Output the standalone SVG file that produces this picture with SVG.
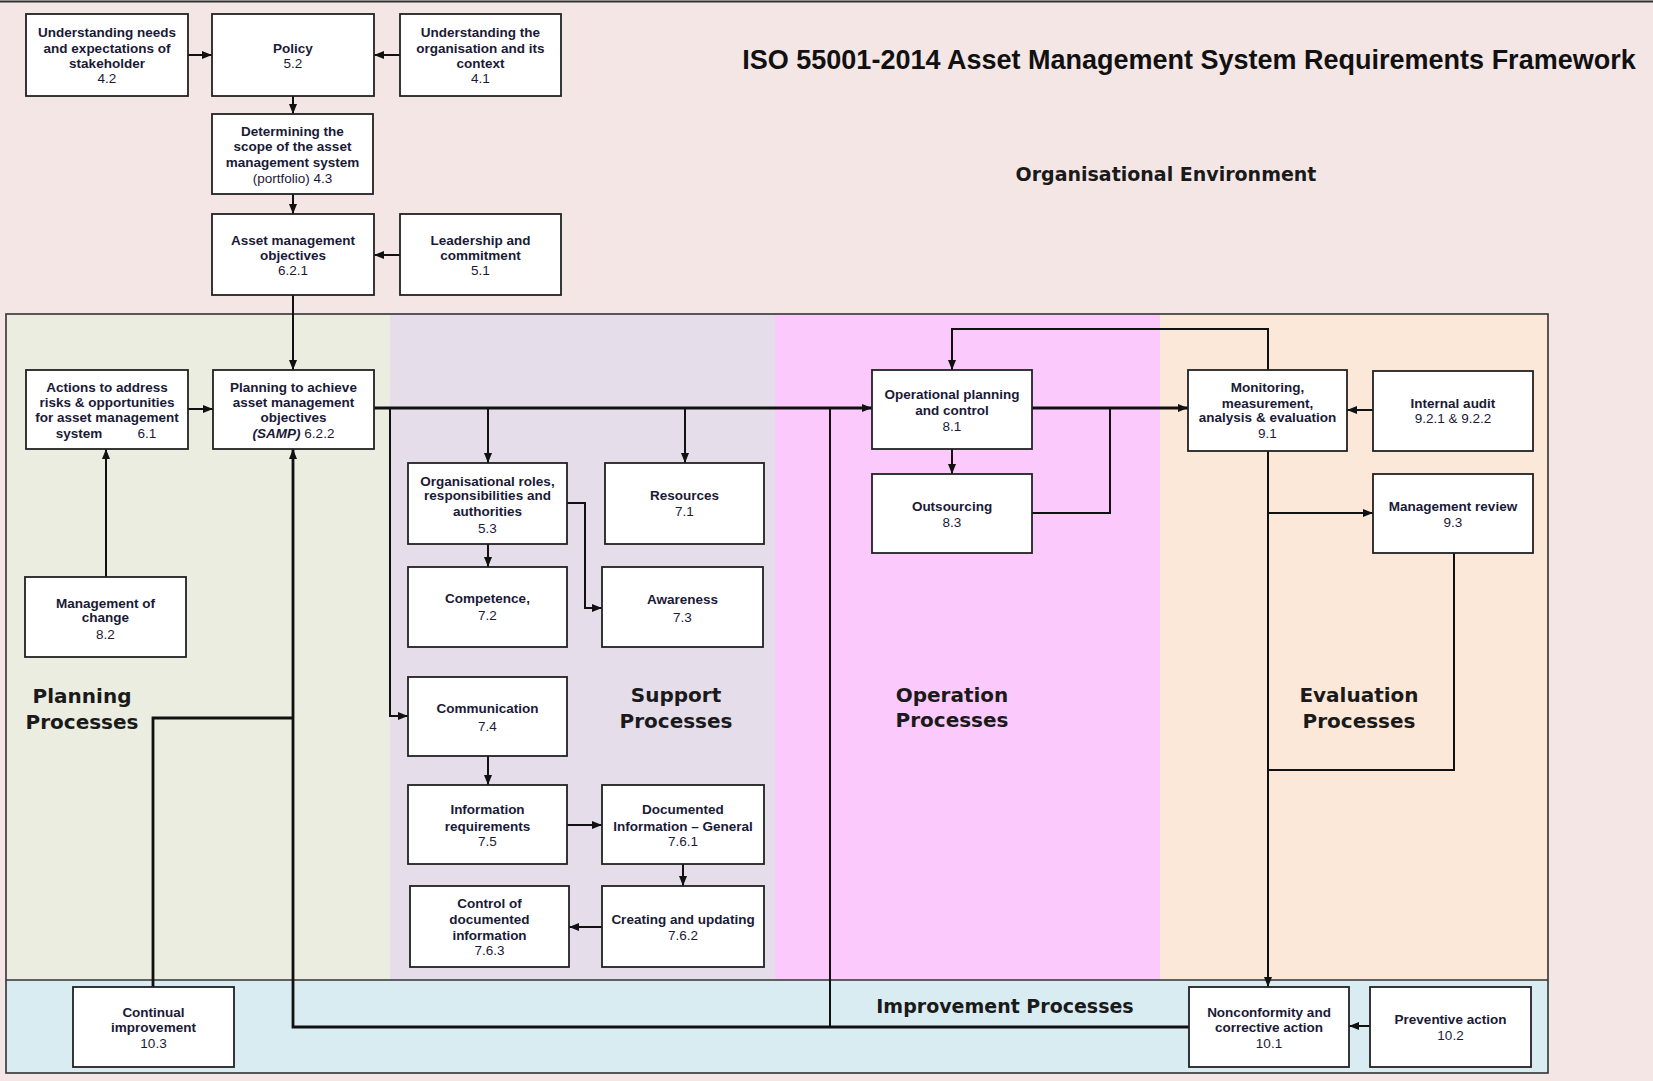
<svg xmlns="http://www.w3.org/2000/svg" width="1653" height="1081" viewBox="0 0 1653 1081">
<style>
.box{fill:#fff;stroke:#222;stroke-width:1.8}
.t{font-family:"Liberation Sans",Arial,sans-serif;font-size:13.5px;font-weight:bold;fill:#1a1a36;text-anchor:middle}
.n{font-weight:normal}
.lab{font-family:"DejaVu Sans",sans-serif;font-size:20px;font-weight:bold;fill:#1a1a1a;text-anchor:middle}
.c{fill:none;stroke:#111;stroke-width:2}
.ct{fill:none;stroke:#111;stroke-width:2.8}
</style>
<defs>
<marker id="ah" markerUnits="userSpaceOnUse" markerWidth="10" markerHeight="8" refX="10" refY="4" orient="auto">
<path d="M0,0 L10,4 L0,8 z" fill="#111"/>
</marker>
</defs>
<g id="background">
<rect x="0" y="0" width="1653" height="1081" fill="#F5E6E6"/>
<line x1="0" y1="1.5" x2="1653" y2="1.5" stroke="#333" stroke-width="2"/>
<rect x="6" y="314" width="384" height="666" fill="#EAEDDF"/>
<rect x="390" y="314" width="385" height="666" fill="#E5DEEA"/>
<rect x="775" y="314" width="385" height="666" fill="#FCC9FC"/>
<rect x="1160" y="314" width="388" height="666" fill="#FCE8D8"/>
<rect x="6" y="980" width="1542" height="93" fill="#D9ECF2"/>
<rect x="6" y="314" width="1542" height="759" fill="none" stroke="#333" stroke-width="1.6"/>
<line x1="6" y1="980" x2="1548" y2="980" stroke="#333" stroke-width="1.6"/>
</g>
<g id="labels">
<text x="1189" y="69" font-family="Liberation Sans,Arial,sans-serif" font-size="27" font-weight="bold" fill="#111" text-anchor="middle">ISO 55001-2014 Asset Management System Requirements Framework</text>
<text x="1166" y="181" class="lab" style="font-size:19px">Organisational Environment</text>
<text x="82" y="703" class="lab">Planning</text>
<text x="82" y="729" class="lab">Processes</text>
<text x="676" y="702" class="lab">Support</text>
<text x="676" y="728" class="lab">Processes</text>
<text x="952" y="702" class="lab">Operation</text>
<text x="952" y="727" class="lab">Processes</text>
<text x="1359" y="702" class="lab">Evaluation</text>
<text x="1359" y="728" class="lab">Processes</text>
<text x="1005" y="1013" class="lab" style="font-size:19px">Improvement Processes</text>
</g>
<g id="connectors">
<path class="c" d="M188,55 H212" marker-end="url(#ah)"/>
<path class="c" d="M400,55 H374" marker-end="url(#ah)"/>
<path class="c" d="M293,96 V114" marker-end="url(#ah)"/>
<path class="c" d="M293,194 V214" marker-end="url(#ah)"/>
<path class="c" d="M400,255 H374" marker-end="url(#ah)"/>
<path class="c" d="M293,295 V370" marker-end="url(#ah)"/>
<path class="c" d="M188,409 H213" marker-end="url(#ah)"/>
<path class="c" d="M106,577 V449" marker-end="url(#ah)"/>
<path class="ct" d="M374,408 H872" marker-end="url(#ah)"/>
<path class="c" d="M390,408 V716 H408" marker-end="url(#ah)"/>
<path class="c" d="M488,408 V463" marker-end="url(#ah)"/>
<path class="c" d="M685,408 V463" marker-end="url(#ah)"/>
<path class="c" d="M488,544 V567" marker-end="url(#ah)"/>
<path class="c" d="M567,503 H585 V608 H602" marker-end="url(#ah)"/>
<path class="c" d="M488,756 V785" marker-end="url(#ah)"/>
<path class="c" d="M567,825 H602" marker-end="url(#ah)"/>
<path class="c" d="M683,864 V886" marker-end="url(#ah)"/>
<path class="c" d="M602,927 H569" marker-end="url(#ah)"/>
<path class="ct" d="M153,987 V718 H293"/>
<path class="ct" d="M1189,1027 H293 V449" marker-end="url(#ah)"/>
<path class="c" d="M830,1027 V408"/>
<path class="ct" d="M1032,408 H1188" marker-end="url(#ah)"/>
<path class="c" d="M1032,513 H1110 V408"/>
<path class="c" d="M952,449 V474" marker-end="url(#ah)"/>
<path class="c" d="M1268,370 V329 H952 V370" marker-end="url(#ah)"/>
<path class="c" d="M1373,410 H1347" marker-end="url(#ah)"/>
<path class="c" d="M1268,451 V987" marker-end="url(#ah)"/>
<path class="c" d="M1268,513 H1373" marker-end="url(#ah)"/>
<path class="c" d="M1454,553 V770 H1268"/>
<path class="c" d="M1370,1026 H1349" marker-end="url(#ah)"/>
</g>
<g id="n42"><rect class="box" x="26" y="14" width="162" height="82"/>
<text class="t" x="107" y="37">Understanding needs</text><text class="t" x="107" y="53">and expectations of</text><text class="t" x="107" y="68">stakeholder</text><text class="t n" x="107" y="83">4.2</text></g>
<g id="n52"><rect class="box" x="212" y="14" width="162" height="82"/>
<text class="t" x="293" y="53">Policy</text><text class="t n" x="293" y="68">5.2</text></g>
<g id="n41"><rect class="box" x="400" y="14" width="161" height="82"/>
<text class="t" x="480.5" y="37">Understanding the</text><text class="t" x="480.5" y="53">organisation and its</text><text class="t" x="480.5" y="68">context</text><text class="t n" x="480.5" y="83">4.1</text></g>
<g id="n43"><rect class="box" x="212" y="114" width="161" height="80"/>
<text class="t" x="292.5" y="136">Determining the</text><text class="t" x="292.5" y="151">scope of the asset</text><text class="t" x="292.5" y="167">management system</text><text class="t n" x="292.5" y="183">(portfolio) 4.3</text></g>
<g id="n621"><rect class="box" x="212" y="214" width="162" height="81"/>
<text class="t" x="293" y="245">Asset management</text><text class="t" x="293" y="260">objectives</text><text class="t n" x="293" y="275">6.2.1</text></g>
<g id="n51"><rect class="box" x="400" y="214" width="161" height="81"/>
<text class="t" x="480.5" y="245">Leadership and</text><text class="t" x="480.5" y="260">commitment</text><text class="t n" x="480.5" y="275">5.1</text></g>
<g id="n61"><rect class="box" x="26" y="370" width="162" height="79"/>
<text class="t" x="107" y="392">Actions to address</text><text class="t" x="107" y="407">risks &amp; opportunities</text><text class="t" x="107" y="422">for asset management</text><text class="t" x="79" y="438">system</text><text class="t n" x="147" y="438">6.1</text></g>
<g id="n622"><rect class="box" x="213" y="370" width="161" height="79"/>
<text class="t" x="293.5" y="392">Planning to achieve</text><text class="t" x="293.5" y="407">asset management</text><text class="t" x="293.5" y="422">objectives</text><text class="t" x="293.5" y="438"><tspan font-style="italic">(SAMP)</tspan><tspan font-weight="normal"> 6.2.2</tspan></text></g>
<g id="n82"><rect class="box" x="25" y="577" width="161" height="80"/>
<text class="t" x="105.5" y="608">Management of</text><text class="t" x="105.5" y="622">change</text><text class="t n" x="105.5" y="639">8.2</text></g>
<g id="n53"><rect class="box" x="408" y="463" width="159" height="81"/>
<text class="t" x="487.5" y="486">Organisational roles,</text><text class="t" x="487.5" y="500">responsibilities and</text><text class="t" x="487.5" y="516">authorities</text><text class="t n" x="487.5" y="533">5.3</text></g>
<g id="n71"><rect class="box" x="605" y="463" width="159" height="81"/>
<text class="t" x="684.5" y="500">Resources</text><text class="t n" x="684.5" y="516">7.1</text></g>
<g id="n72"><rect class="box" x="408" y="567" width="159" height="80"/>
<text class="t" x="487.5" y="603">Competence,</text><text class="t n" x="487.5" y="620">7.2</text></g>
<g id="n73"><rect class="box" x="602" y="567" width="161" height="80"/>
<text class="t" x="682.5" y="604">Awareness</text><text class="t n" x="682.5" y="622">7.3</text></g>
<g id="n74"><rect class="box" x="408" y="677" width="159" height="79"/>
<text class="t" x="487.5" y="713">Communication</text><text class="t n" x="487.5" y="731">7.4</text></g>
<g id="n75"><rect class="box" x="408" y="785" width="159" height="79"/>
<text class="t" x="487.5" y="814">Information</text><text class="t" x="487.5" y="831">requirements</text><text class="t n" x="487.5" y="846">7.5</text></g>
<g id="n761"><rect class="box" x="602" y="785" width="162" height="79"/>
<text class="t" x="683" y="814">Documented</text><text class="t" x="683" y="831">Information – General</text><text class="t n" x="683" y="846">7.6.1</text></g>
<g id="n763"><rect class="box" x="410" y="886" width="159" height="81"/>
<text class="t" x="489.5" y="908">Control of</text><text class="t" x="489.5" y="924">documented</text><text class="t" x="489.5" y="940">information</text><text class="t n" x="489.5" y="955">7.6.3</text></g>
<g id="n762"><rect class="box" x="602" y="886" width="162" height="81"/>
<text class="t" x="683" y="924">Creating and updating</text><text class="t n" x="683" y="940">7.6.2</text></g>
<g id="n103"><rect class="box" x="73" y="987" width="161" height="80"/>
<text class="t" x="153.5" y="1017">Continual</text><text class="t" x="153.5" y="1032">improvement</text><text class="t n" x="153.5" y="1048">10.3</text></g>
<g id="n81"><rect class="box" x="872" y="370" width="160" height="79"/>
<text class="t" x="952" y="399">Operational planning</text><text class="t" x="952" y="415">and control</text><text class="t n" x="952" y="431">8.1</text></g>
<g id="n83"><rect class="box" x="872" y="474" width="160" height="79"/>
<text class="t" x="952" y="511">Outsourcing</text><text class="t n" x="952" y="527">8.3</text></g>
<g id="n91"><rect class="box" x="1188" y="370" width="159" height="81"/>
<text class="t" x="1267.5" y="392">Monitoring,</text><text class="t" x="1267.5" y="408">measurement,</text><text class="t" x="1267.5" y="422">analysis &amp; evaluation</text><text class="t n" x="1267.5" y="438">9.1</text></g>
<g id="n92"><rect class="box" x="1373" y="371" width="160" height="80"/>
<text class="t" x="1453" y="408">Internal audit</text><text class="t n" x="1453" y="423">9.2.1 &amp; 9.2.2</text></g>
<g id="n93"><rect class="box" x="1373" y="474" width="160" height="79"/>
<text class="t" x="1453" y="511">Management review</text><text class="t n" x="1453" y="527">9.3</text></g>
<g id="n101"><rect class="box" x="1189" y="987" width="160" height="80"/>
<text class="t" x="1269" y="1017">Nonconformity and</text><text class="t" x="1269" y="1032">corrective action</text><text class="t n" x="1269" y="1048">10.1</text></g>
<g id="n102"><rect class="box" x="1370" y="987" width="161" height="80"/>
<text class="t" x="1450.5" y="1024">Preventive action</text><text class="t n" x="1450.5" y="1040">10.2</text></g>
</svg>
